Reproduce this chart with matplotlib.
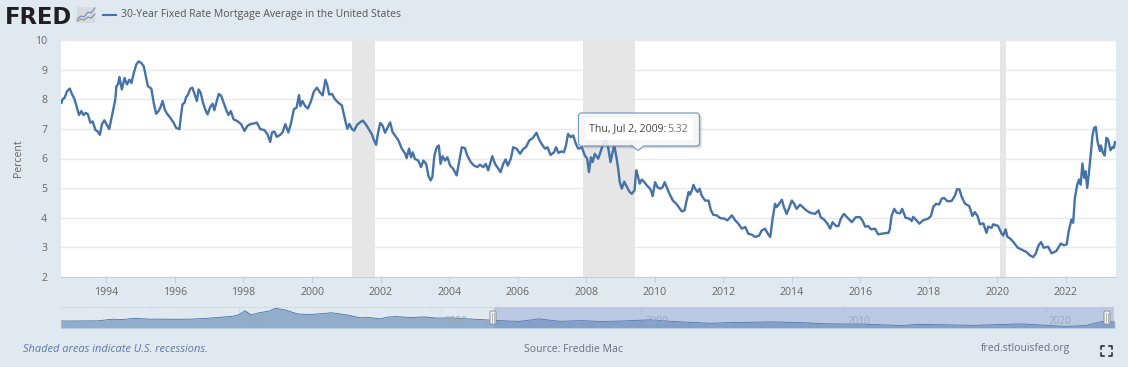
import matplotlib
matplotlib.use("Agg")
import matplotlib.pyplot as plt
from matplotlib.patches import FancyBboxPatch, Polygon, Rectangle

plt.rcParams['font.family'] = ['Open Sans', 'DejaVu Sans']

years = [1992.69,1992.72,1992.78,1992.85,1992.93,1993.0,1993.07,1993.14,1993.2,1993.27,1993.33,1993.4,1993.46,1993.53,1993.6,1993.68,1993.75,1993.81,1993.87,1993.94,1994.0,1994.08,1994.14,1994.21,1994.26,1994.29,1994.34,1994.38,1994.45,1994.53,1994.6,1994.67,1994.73,1994.8,1994.87,1994.94,1995.02,1995.09,1995.15,1995.21,1995.31,1995.38,1995.45,1995.52,1995.57,1995.64,1995.7,1995.77,1995.86,1995.96,1996.03,1996.13,1996.18,1996.22,1996.28,1996.32,1996.38,1996.45,1996.51,1996.57,1996.64,1996.69,1996.75,1996.82,1996.88,1996.95,1997.03,1997.1,1997.15,1997.22,1997.28,1997.35,1997.42,1997.49,1997.56,1997.63,1997.71,1997.81,1997.93,1998.03,1998.11,1998.2,1998.29,1998.39,1998.49,1998.61,1998.7,1998.78,1998.83,1998.9,1998.97,1999.07,1999.14,1999.22,1999.31,1999.39,1999.47,1999.55,1999.62,1999.66,1999.72,1999.8,1999.88,1999.97,2000.05,2000.14,2000.24,2000.31,2000.39,2000.44,2000.5,2000.58,2000.67,2000.77,2000.87,
 2000.97,2001.03,2001.09,2001.16,2001.23,2001.31,2001.4,2001.48,2001.56,2001.65,2001.74,2001.81,2001.87,2001.92,2001.99,2002.06,2002.13,2002.21,2002.28,2002.35,2002.42,2002.52,2002.62,2002.72,2002.76,2002.83,2002.89,2002.94,2003.0,2003.1,2003.18,2003.25,2003.33,2003.4,2003.46,2003.51,2003.57,2003.64,2003.7,2003.75,2003.81,2003.88,2003.95,2004.03,2004.12,2004.22,2004.29,2004.37,2004.46,2004.53,2004.63,2004.73,2004.82,2004.9,2005.0,2005.07,2005.14,2005.26,2005.34,2005.44,2005.5,2005.58,2005.65,2005.71,2005.8,2005.87,2005.97,2006.07,2006.17,2006.24,2006.34,2006.44,2006.55,2006.62,2006.7,2006.8,2006.87,2006.96,2007.06,2007.12,2007.19,2007.28,2007.35,2007.41,2007.47,2007.55,2007.62,2007.7,2007.77,2007.87,2007.96,2008.03,2008.08,2008.14,2008.19,2008.25,2008.35,2008.45,2008.5,2008.57,2008.64,2008.71,2008.76,2008.82,
 2008.89,2008.94,2008.98,2009.04,2009.11,2009.19,2009.27,2009.33,2009.41,2009.46,2009.51,2009.56,2009.62,2009.7,2009.77,2009.85,2009.89,2009.94,2010.01,2010.08,2010.16,2010.23,2010.29,2010.35,2010.43,2010.53,2010.63,2010.72,2010.79,2010.87,2010.92,2010.99,2011.03,2011.08,2011.13,2011.18,2011.25,2011.31,2011.37,2011.47,2011.57,2011.64,2011.71,2011.81,2011.91,2012.03,2012.12,2012.25,2012.35,2012.44,2012.54,2012.64,2012.73,2012.83,2012.93,2013.05,2013.12,2013.22,2013.3,2013.37,2013.44,2013.51,2013.56,2013.63,2013.71,2013.77,2013.85,2013.93,2014.0,2014.07,2014.14,2014.24,2014.32,2014.42,2014.53,2014.68,2014.78,2014.84,2014.94,2015.04,2015.12,2015.19,2015.29,2015.36,2015.43,2015.52,2015.65,2015.75,2015.87,
 2015.99,2016.07,2016.14,2016.23,2016.31,2016.43,2016.52,2016.67,2016.82,2016.86,2016.91,2016.99,2017.06,2017.16,2017.22,2017.32,2017.43,2017.5,2017.54,2017.64,2017.72,2017.84,2017.98,2018.06,2018.13,2018.21,2018.3,2018.37,2018.44,2018.54,2018.66,2018.76,2018.82,2018.89,2018.95,2019.05,2019.18,2019.27,2019.34,2019.42,2019.49,2019.59,2019.68,2019.73,2019.83,2019.88,2020.02,2020.12,2020.17,2020.24,2020.29,2020.38,2020.48,2020.59,2020.7,2020.85,2020.95,2021.04,2021.12,2021.19,2021.27,2021.35,2021.48,2021.58,2021.72,2021.85,2021.94,2022.02,2022.08,2022.16,2022.21,2022.26,2022.33,2022.38,2022.43,2022.48,2022.53,2022.57,2022.62,2022.68,2022.75,2022.77,2022.82,2022.87,2022.92,2022.99,2023.02,2023.08,2023.13,2023.18,2023.23,2023.3,2023.36,2023.4,2023.43]
rates = [7.88,8.0,8.05,8.27,8.36,8.16,8.0,7.71,7.47,7.6,7.47,7.54,7.49,7.21,7.25,6.96,6.91,6.8,7.16,7.29,7.16,6.99,7.32,7.71,8.0,8.44,8.5,8.75,8.33,8.72,8.5,8.66,8.55,8.89,9.17,9.28,9.22,9.11,8.78,8.44,8.36,7.88,7.51,7.6,7.71,7.94,7.66,7.51,7.38,7.21,7.04,6.99,7.49,7.83,7.88,8.05,8.16,8.36,8.39,8.18,7.94,8.33,8.22,7.88,7.66,7.49,7.74,7.85,7.63,7.94,8.18,8.11,7.88,7.66,7.47,7.6,7.32,7.27,7.16,6.93,7.1,7.16,7.18,7.21,6.99,6.96,6.82,6.56,6.88,6.91,6.73,6.8,6.88,7.16,6.88,7.21,7.66,7.72,8.14,7.77,7.94,7.77,7.69,7.94,8.25,8.39,8.22,8.13,8.66,8.5,8.16,8.18,8.0,7.88,7.79,
 7.28,7.0,7.17,7.0,6.94,7.13,7.22,7.28,7.17,7.0,6.83,6.61,6.46,6.83,7.2,7.11,6.87,7.06,7.22,6.89,6.78,6.61,6.33,6.16,6.01,6.33,6.04,6.21,5.99,5.93,5.71,5.93,5.82,5.4,5.26,5.37,6.1,6.38,6.44,5.82,6.08,5.93,6.04,5.76,5.65,5.43,5.88,6.38,6.35,6.1,5.88,5.76,5.71,5.79,5.71,5.82,5.6,6.08,5.82,5.65,5.54,5.82,5.97,5.76,5.99,6.38,6.33,6.16,6.33,6.38,6.61,6.69,6.87,6.66,6.49,6.33,6.38,6.12,6.21,6.38,6.19,6.24,6.21,6.44,6.83,6.72,6.78,6.49,6.33,6.38,6.1,5.99,5.54,6.04,5.88,6.16,5.99,6.33,6.55,6.61,6.38,5.88,6.16,6.44,
 5.99,5.6,5.2,4.98,5.22,5.03,4.87,4.81,4.92,5.6,5.4,5.15,5.29,5.2,5.09,5.0,4.92,4.73,5.2,5.03,4.98,5.03,5.2,5.03,4.81,4.58,4.47,4.33,4.21,4.25,4.53,4.87,4.78,4.92,5.11,4.98,4.87,4.98,4.75,4.58,4.58,4.25,4.1,4.08,3.99,3.97,3.91,4.08,3.91,3.8,3.63,3.69,3.46,3.43,3.35,3.4,3.57,3.63,3.46,3.35,3.97,4.47,4.36,4.47,4.61,4.36,4.13,4.36,4.58,4.47,4.3,4.44,4.36,4.25,4.17,4.13,4.25,4.02,3.94,3.8,3.63,3.85,3.72,3.72,3.97,4.13,3.97,3.85,4.02,
 4.02,3.89,3.7,3.72,3.61,3.63,3.44,3.47,3.49,3.61,4.06,4.3,4.17,4.15,4.3,4.0,3.97,3.89,4.03,3.91,3.8,3.92,3.97,4.06,4.37,4.47,4.45,4.64,4.67,4.56,4.56,4.75,4.96,4.96,4.73,4.48,4.39,4.06,4.19,4.06,3.78,3.81,3.49,3.7,3.66,3.78,3.72,3.47,3.4,3.61,3.36,3.29,3.16,2.99,2.93,2.84,2.73,2.67,2.79,3.04,3.18,2.99,3.02,2.8,2.88,3.13,3.07,3.1,3.55,3.94,3.83,4.67,5.12,5.29,5.12,5.83,5.35,5.57,5.01,5.63,6.47,6.75,7.03,7.07,6.58,6.25,6.44,6.19,6.1,6.7,6.64,6.28,6.39,6.36,6.55]

rec_start = [2001.17, 2007.92, 2020.08]
rec_end = [2001.83, 2009.42, 2020.25]
y_ticks = [2, 3, 4, 5, 6, 7, 8, 9, 10]
x_ticks = list(range(1994, 2023, 2))

nav_years = [1971.15,1972,1973,1973.7,1974.2,1974.8,1975.5,1976.5,1977.5,1978.3,1979,1979.7,1980.0,1980.3,1980.6,1981,1981.5,1981.8,1982.3,1982.9,1983.5,1984,1984.6,1985.3,1986,1986.5,1987,1987.4,1987.8,1988.5,1989.2,1989.8,1990.5,1991.2,1992,1992.66,1993.3,1993.9,1994.9,1995.9,1997,1998,1999,2000.4,2001.8,2003.4,2004.4,2006.5,2008,2009.3,2011,2012.9,2013.7,2016.5,2018.8,2021,2022,2022.85,2023.46]
nav_rates = [7.33,7.4,7.5,8.9,8.6,9.7,9.0,8.9,8.9,9.6,10.5,11.5,13.0,16.3,12.6,14.5,16.0,18.3,17.0,13.5,13.0,13.6,14.5,12.8,10.2,10.3,9.3,10.8,11.2,10.4,10.9,9.9,10.1,9.4,8.6,8.0,7.4,7.0,9.2,7.1,7.7,6.9,7.4,8.4,6.7,5.4,6.0,6.6,5.9,4.9,4.7,3.4,4.5,3.6,4.9,2.7,3.4,7.0,6.5]
nav_ticks = [1980, 1990, 2000, 2010, 2020]

BG = '#E1E9F0'
LINE = '#4572A7'
W, H = 1128, 367
fig = plt.figure(figsize=(W/100, H/100), dpi=100, facecolor=BG)

def px_axes(l, t, r, b, **kw):
    return fig.add_axes([l/W, 1-b/H, (r-l)/W, (b-t)/H], **kw)

# main chart
ax = px_axes(60.5, 40, 1116, 277, facecolor='white')
ax.set_xlim(1992.66, 2023.46)
ax.set_ylim(2, 10)
for s, e in zip(rec_start, rec_end):
    ax.axvspan(s, e, color='#E6E6E6', lw=0, zorder=1)
ax.yaxis.grid(True, color='#EAEAEA', lw=1, zorder=0)
ax.set_axisbelow(True)
ax.plot(years, rates, color=LINE, lw=1.7, solid_joinstyle='round', zorder=3)
for sp in ax.spines.values():
    sp.set_visible(False)
ax.spines['bottom'].set_visible(True)
ax.spines['bottom'].set_color('#C0D0E0')
ax.set_xticks(x_ticks)
ax.set_yticks(y_ticks)
ax.tick_params(axis='x', length=4, width=0.7, color='#C0D0E0', labelsize=7.6, labelcolor='#666666', pad=3)
ax.tick_params(axis='y', length=0, labelsize=7.6, labelcolor='#666666', pad=9.5)
ax.set_ylabel('Percent', fontsize=7.6, color='#666666', labelpad=8)

# navigator
nav = px_axes(60.7, 307, 1114.5, 328, facecolor='none')
nav.set_xlim(1971.15, 2023.45)
nav.set_ylim(1.3, 19.5)
nav.fill_between(nav_years, nav_rates, 1.3, color=LINE, alpha=0.5, lw=0, zorder=2)
nav.plot(nav_years, nav_rates, color=LINE, lw=0.6, zorder=3)
nav.axvspan(1992.66, 2023.45, color='#6685C2', alpha=0.3, lw=0, zorder=4)
nav.set_xticks([])
nav.set_yticks([])
for sp in nav.spines.values():
    sp.set_visible(False)
for t in nav_ticks:
    nav.plot([t, t], [15, 19.5], color='#D0D8E0', lw=0.5, zorder=1)
    nav.text(t + 0.75, 6.5, str(t), fontsize=7.2, color='#9AA8BA', ha='center', va='center', zorder=5)

# page furniture, in pixels
ov = fig.add_axes([0, 0, 1, 1], facecolor='none')
ov.set_xlim(0, W)
ov.set_ylim(H, 0)
ov.axis('off')
ov.plot([60.7, 493], [307, 307], color='#C4CAD0', lw=0.7, ls=(0, (1, 1)))

for hx in (493, 1107):
    ov.add_patch(FancyBboxPatch((hx-3, 311), 6, 13, boxstyle='round,pad=0,rounding_size=1',
                                fc='#F5F5F5', ec='#909090', lw=0.7, zorder=6))
    ov.plot([hx-1, hx-1], [313, 322], color='#999999', lw=0.5, zorder=7)
    ov.plot([hx+1, hx+1], [313, 322], color='#999999', lw=0.5, zorder=7)

# logo and legend
ov.text(5, 24, 'FRED', fontsize=16.3, fontweight='bold', family='DejaVu Sans', color='#231F20', ha='left', va='baseline')
ov.add_patch(Rectangle((77, 7), 18, 16, fc='#D5DBE0', ec='none'))
ov.plot([77, 81, 84, 88, 91, 95], [19, 16, 17, 12, 13, 8], color='#6E8FB5', lw=0.8)
ov.plot([77, 81, 84, 88, 91, 95], [21, 19, 20, 17, 18, 14], color='#8A8A8A', lw=0.8)
ov.plot([103, 116], [15, 15], color=LINE, lw=1.5)
ov.text(121, 15, '30-Year Fixed Rate Mortgage Average in the United States', fontsize=7.45,
        color='#555555', ha='left', va='center')

# tooltip
for off, a in ((3, 0.05), (2, 0.07), (1, 0.1)):
    ov.add_patch(FancyBboxPatch((578.5+off, 113+off), 121, 33, boxstyle='round,pad=0,rounding_size=2.5',
                                fc='black', ec='none', alpha=a, zorder=7))
ov.add_patch(FancyBboxPatch((578.5, 113), 121, 33, boxstyle='round,pad=0,rounding_size=2.5',
                            fc='white', ec='none', alpha=0.85, zorder=8))
ov.add_patch(Polygon([[632, 146], [638, 150.5], [644, 146]], closed=True, fc='white', ec='none', alpha=0.85, zorder=8))
ov.plot([632, 578.5+2, 578.5, 578.5, 580.5, 697.5, 699.5, 699.5, 697.5, 644, 638, 632],
        [146, 146, 144, 115, 113, 113, 115, 144, 146, 146, 150.5, 146], color='#7C9CC6', lw=0.9, zorder=9)
ov.add_patch(Rectangle((585, 118), 108, 22, fc='white', ec='none', zorder=9))
ov.text(589, 129, 'Thu, Jul 2, 2009:', fontsize=7.6, color='#444444', ha='left', va='center', zorder=10)
ov.text(667.5, 129, '5.32', fontsize=7.6, color='#777777', ha='left', va='center', zorder=10)

# footer
ov.text(23, 349, 'Shaded areas indicate U.S. recessions.', fontsize=7.9, style='italic', color='#5A78A6', ha='left', va='center')
ov.text(573.5, 349, 'Source: Freddie Mac', fontsize=7.45, color='#66727E', ha='center', va='center')
ov.text(1025, 349, 'fred.stlouisfed.org', fontsize=7.5, color='#66727E', ha='center', va='center')
for cx, cy, dx, dy in ((1101, 346, 1, 1), (1112, 346, -1, 1), (1101, 356, 1, -1), (1112, 356, -1, -1)):
    ov.plot([cx+3*dx, cx, cx], [cy, cy, cy+3*dy], color='#222222', lw=1.1)

fig.savefig('out.png', dpi=100, facecolor=BG)
